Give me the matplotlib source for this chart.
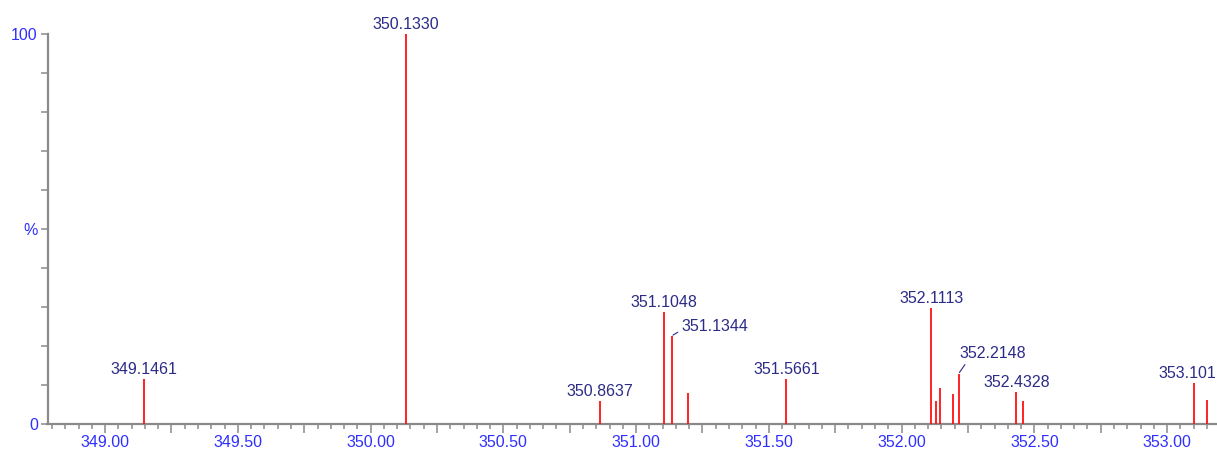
import matplotlib
matplotlib.use("Agg")
import matplotlib.pyplot as plt
from matplotlib.ticker import MultipleLocator, FixedLocator, FuncFormatter

plt.rcParams['font.family'] = ['Liberation Sans', 'DejaVu Sans']

# Peak data (m/z, relative intensity %)
mz = [349.1461, 350.1330, 350.8637, 351.1048, 351.1344, 351.196, 351.5661,
      352.1113, 352.129, 352.146, 352.194, 352.2148, 352.4328, 352.457,
      353.101, 353.150]
intensity = [11.6, 100.0, 5.9, 28.6, 22.6, 7.9, 11.6,
             29.8, 5.8, 9.2, 7.8, 12.9, 8.1, 5.8,
             10.5, 6.1]
labels = ["349.1461", "350.1330", "350.8637", "351.1048", "351.1344", "", "351.5661",
          "352.1113", "", "", "", "352.2148", "352.4328", "",
          "353.101", ""]

x_min, x_max = 348.783, 353.188
x_ticklabels = ["349.00", "349.50", "350.00", "350.50", "351.00", "351.50",
                "352.00", "352.50", "353.00"]

NAVY = '#2b2b88'
BLUE = '#2f2fff'
GRAY = '#8a8a8a'
RED = '#ff1010'

W, H = 1217, 450
fig = plt.figure(figsize=(W / 100, H / 100), dpi=100)
ax = fig.add_axes([47.5 / W, 26 / H, (W - 47.5) / W, 390 / H])

ax.vlines(mz, 0, intensity, colors=RED, linewidth=1.3, zorder=3)

ax.set_xlim(x_min, x_max)
ax.set_ylim(0, 100)

for s in ['top', 'right']:
    ax.spines[s].set_visible(False)
for s in ['left', 'bottom']:
    ax.spines[s].set_color(GRAY)
    ax.spines[s].set_linewidth(1.6)

# y ticks
ax.yaxis.set_major_locator(FixedLocator([0, 50, 100]))
ax.yaxis.set_minor_locator(MultipleLocator(10))
ax.set_yticklabels(["0", "%", "100"])
ax.tick_params(axis='y', which='both', direction='out', length=5, width=1.1,
               color=GRAY, labelcolor=BLUE, labelsize=11.5, pad=2)

# x ticks
ax.xaxis.set_major_locator(MultipleLocator(0.25))
ax.xaxis.set_minor_locator(MultipleLocator(0.05))
lab_map = {round(float(t), 2): t for t in x_ticklabels}
ax.xaxis.set_major_formatter(FuncFormatter(lambda v, p: lab_map.get(round(v, 2), "")))
ax.tick_params(axis='x', which='major', direction='out', length=6.5, width=1.1,
               color=GRAY, labelcolor=BLUE, labelsize=11.5, pad=1.5)
ax.tick_params(axis='x', which='minor', direction='out', length=3.8, width=1.1,
               color=GRAY)

# peak labels
for x, y, t in zip(mz, intensity, labels):
    if not t:
        continue
    if t == "351.1344":
        ax.annotate(t, xy=(x, y), xytext=(10, 9), textcoords='offset pixels',
                    ha='left', va='center', color=NAVY, fontsize=11.5,
                    annotation_clip=False,
                    arrowprops=dict(arrowstyle='-', color=NAVY, lw=0.8,
                                    shrinkA=1, shrinkB=1, relpos=(0, 0.3)))
    elif t == "352.2148":
        ax.annotate(t, xy=(x, y), xytext=(1, 13), textcoords='offset pixels',
                    ha='left', va='bottom', color=NAVY, fontsize=11.5,
                    annotation_clip=False,
                    arrowprops=dict(arrowstyle='-', color=NAVY, lw=0.8,
                                    shrinkA=1, shrinkB=1, relpos=(0.12, 0)))
    elif t == "353.101":
        ax.annotate(t, xy=(x, y), xytext=(22, 5), textcoords='offset pixels',
                    ha='right', va='baseline', color=NAVY, fontsize=11.5,
                    annotation_clip=False)
    else:
        ax.annotate(t, xy=(x, y), xytext=(0, 5), textcoords='offset pixels',
                    ha='center', va='baseline', color=NAVY, fontsize=11.5,
                    annotation_clip=False)

fig.savefig("out.png", dpi=100, facecolor='white')
